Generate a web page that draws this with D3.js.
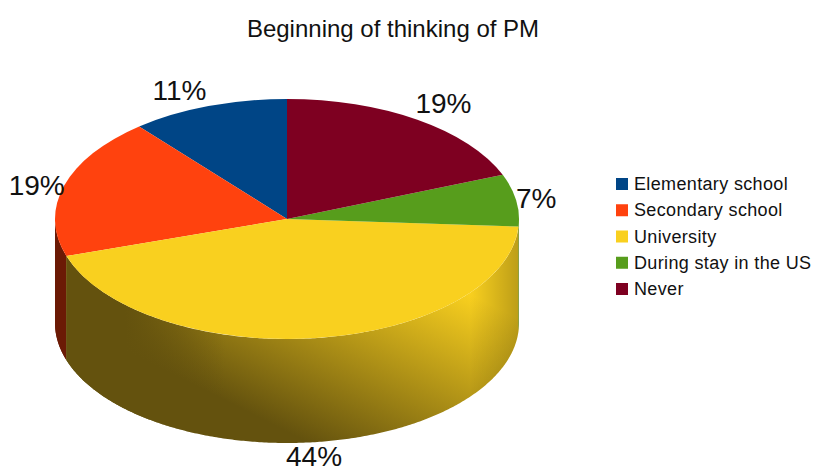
<!DOCTYPE html>
<html><head><meta charset="utf-8">
<script src="https://cdn.jsdelivr.net/npm/d3@7"></script>
<style>html,body{margin:0;padding:0;background:#fff}svg{display:block}text{font-family:"Liberation Sans",Arial,sans-serif;fill:#111}</style>
</head><body><svg id="c" width="814" height="468"></svg>
<script>
const categories = ["Elementary school","Secondary school","University","During stay in the US","Never"];
const values = [11,19,44,7,19];
const labels = ["11%","19%","44%","7%","19%"];
const colors = ["#004586","#ff420e","#f9d01f","#579d1c","#7e0021"];
const sideDark = ["#002a50","#6b1a05","#64520e","#34600f","#4c0014"];
const title = "Beginning of thinking of PM";

const W=814,H=468,cx=287,cy=219,rx=232,ry=120,depth=104;
const svg=d3.select("#c");
const defs=svg.append("defs");

const pie=d3.pie().sort(null).value(d=>d).startAngle(0).endAngle(-2*Math.PI);
const arcs=pie(values);
const px=a=>cx+rx*Math.sin(a), py=a=>cy-ry*Math.cos(a);

colors.forEach((c,i)=>{
  const g=defs.append("linearGradient").attr("id","side"+i).attr("gradientUnits","userSpaceOnUse")
    .attr("x1",300).attr("y1",438).attr("x2",392).attr("y2",255);
  g.append("stop").attr("offset",0).attr("stop-color",sideDark[i]);
  g.append("stop").attr("offset",1).attr("stop-color",c);
  const s=defs.append("linearGradient").attr("id","shade"+i).attr("gradientUnits","userSpaceOnUse")
    .attr("x1",125).attr("y1",0).attr("x2",225).attr("y2",0);
  s.append("stop").attr("offset",0).attr("stop-color",sideDark[i]).attr("stop-opacity",1);
  s.append("stop").attr("offset",1).attr("stop-color",sideDark[i]).attr("stop-opacity",0);
});
const edge=defs.append("linearGradient").attr("id","edge").attr("gradientUnits","userSpaceOnUse")
  .attr("x1",470).attr("y1",0).attr("x2",520).attr("y2",0);
edge.append("stop").attr("offset",0).attr("stop-color","#000").attr("stop-opacity",0);
edge.append("stop").attr("offset",1).attr("stop-color","#000").attr("stop-opacity",0.25);

const lo=-1.5*Math.PI, hi=-0.5*Math.PI;
const side=d3.area().x(a=>px(a)).y0(a=>py(a)).y1(a=>py(a)+depth);
const wall=svg.append("g");
arcs.forEach((d,i)=>{
  const a0=Math.max(d.endAngle,lo), a1=Math.min(d.startAngle,hi);
  if(a0>=a1) return;
  const n=Math.ceil((a1-a0)/0.01);
  const pts=d3.range(n+1).map(k=>a0+(a1-a0)*k/n);
  wall.append("path").attr("d",side(pts)).attr("fill",`url(#side${i})`);
  wall.append("path").attr("d",side(pts)).attr("fill",`url(#shade${i})`);
  wall.append("path").attr("d",side(pts)).attr("fill","url(#edge)");
});

const arc=d3.arc().innerRadius(0).outerRadius(rx);
const face=svg.append("g").attr("transform",`translate(${cx},${cy}) scale(1,${ry/rx})`);
face.selectAll("path").data(arcs).join("path")
  .attr("d",d=>arc({startAngle:d.startAngle,endAngle:d.endAngle}))
  .attr("fill",(d,i)=>colors[i]);

const labelOffset=[[-29,-6],[-27.5,9],[-2,128],[20,8],[26,-7]];
svg.append("g").selectAll("text").data(arcs).join("text")
  .attr("x",(d,i)=>px((d.startAngle+d.endAngle)/2)+labelOffset[i][0])
  .attr("y",(d,i)=>py((d.startAngle+d.endAngle)/2)+labelOffset[i][1])
  .attr("text-anchor","middle").attr("font-size",28)
  .text((d,i)=>labels[i]);

svg.append("text").attr("x",393).attr("y",37).attr("text-anchor","middle").attr("font-size",24).text(title);

const ly=d3.scalePoint().domain(categories).range([184,289]);
const leg=svg.append("g").selectAll("g").data(categories).join("g").attr("transform",d=>`translate(616,${ly(d)})`);
leg.append("rect").attr("x",0).attr("y",-6).attr("width",12).attr("height",12).attr("fill",(d,i)=>colors[i]);
leg.append("text").attr("x",18).attr("y",6).attr("font-size",18).attr("letter-spacing",0.35).text(d=>d);
</script></body></html>
